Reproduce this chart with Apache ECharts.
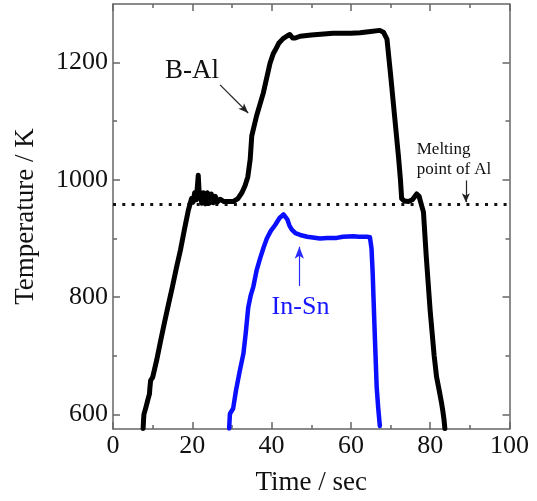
<!DOCTYPE html>
<html>
<head>
<meta charset="utf-8">
<script src="https://cdn.jsdelivr.net/npm/echarts@6/dist/echarts.min.js"></script>
<style>html,body{margin:0;padding:0;background:#fff;}#c{width:537px;height:501px;}</style>
</head>
<body>
<div id="c"></div>
<script>
// ---- data ----
const bAlTime = [7.6,7.7,7.8,8.3,8.8,9.2,9.3,9.5,10,11,12,13,14,14.4,15,16,17,18,19,19.4,19.8,20.2,20.6,21,21.3,21.5,21.7,22,22.4,22.8,23.3,23.8,24.3,24.8,25.3,25.8,26.3,27,28,29,30.3,31.5,32.5,33.3,34.0,34.6,35.0,36.2,37.9,39.6,40.4,40.9,41.8,42.9,43.8,44.6,45.3,46,47.2,50,55.5,60,62.3,65,67.3,68.2,69.1,70,71,72,72.5,72.8,73.5,74.5,75.5,76.6,77.2,77.6,78.3,79,80,81,81.6,82.3,82.9,83.2,83.5,83.7];
const bAlTemp = [576,590,600,612,625,635,645,658,663,692,725,757,788,800,818,850,880,915,948,958,968,962,978,966,990,1008,982,972,960,978,959,978,960,976,961,972,962,967,963,963,963,968,978,990,1005,1035,1075,1109,1148,1199,1215,1221,1233,1241,1245,1248,1242,1242,1245,1247,1250,1250,1251,1253,1255,1252,1240,1180,1110,1040,1000,968,964,963,966,976,972,962,945,870,776,700,664,640,618,605,590,576];
const inSnTime = [29.3,29.4,29.5,29.7,30.3,31,32,32.9,33.5,34.1,34.7,35.4,36.2,37.1,38,38.8,39.8,40.9,42,43.0,43.4,44,44.5,45.1,46,47.2,49,52.2,54,56.4,58,60.6,62,64,64.8,65.2,65.5,65.7,66,66.5,66.9,67.3];
const inSnTemp = [576,590,601,604,610,640,675,704,740,782,802,818,845,866,885,900,913,923,935,941,943,932,922,915,909,906,903,900,901,901,903,904,903,903,902,883,840,799,740,647,610,580];
const meltingPoint = 958;
const yMajorTicks = [600,800,1000,1200];
const yMinorTicks = [700,900,1100];
const xRange = [0,100];
const yRange = [575,1300];
const labels = {bAl:'B-Al', inSn:'In-Sn', melt1:'Melting', melt2:'point of Al', xName:'Time / sec', yName:'Temperature / K'};
// annotation anchors (data coords)
const bAlArrow = [[27.0,1162],[34.1,1114]];
const inSnArrow = [[47.0,819],[47.0,886]];
const meltArrow = [[89.0,999],[89.0,962]];
const bAlLabelAt = [13.1,1168];
const inSnLabelAt = [40.0,765];
const melt1At = [76.6,1041];
const melt2At = [76.6,1007];

const zip = (a,b)=>a.map((v,i)=>[v,b[i]]);
const FONT = 'Liberation Serif';
const AX = '#666';

const chart = echarts.init(document.getElementById('c'), null, {renderer:'canvas'});
const yAx = (pos, vals, len, main) => ({
  type:'value', position:pos, min:yRange[0], max:yRange[1],
  name: main && pos==='left' ? labels.yName : '',
  nameLocation:'middle', nameGap:74, nameRotate:90,
  nameTextStyle:{fontFamily:FONT,fontSize:27,color:'#111'},
  axisLine:{show:main,lineStyle:{color:AX,width:1.5}},
  axisTick:{show:true,inside:true,length:len,customValues:vals,lineStyle:{color:AX,width:1.5}},
  axisLabel:{show:main && pos==='left',customValues:vals,formatter:v=>String(v),fontFamily:FONT,fontSize:26,color:'#111',margin:5},
  splitLine:{show:false}
});
const xAx = (pos) => ({
  type:'value', position:pos, min:xRange[0], max:xRange[1], interval:20,
  name: pos==='bottom' ? labels.xName : '',
  nameLocation:'middle', nameGap:40,
  nameTextStyle:{fontFamily:FONT,fontSize:27,color:'#111'},
  axisLine:{show:true,lineStyle:{color:AX,width:1.5}},
  axisTick:{show:true,inside:true,length:7,lineStyle:{color:AX,width:1.5}},
  minorTick:{show:true,splitNumber:2,length:4,lineStyle:{color:AX,width:1.5}},
  axisLabel:{show:pos==='bottom',fontFamily:FONT,fontSize:26,color:'#111',margin:4},
  splitLine:{show:false}, minorSplitLine:{show:false}
});

const arrowLine = (pts, color, size) => ({
  symbol:['none','arrow'], symbolSize:size, silent:true,
  label:{show:false},
  lineStyle:{color:color,width:1.2,type:'solid'},
  data:[[{coord:pts[0]},{coord:pts[1]}]]
});

chart.setOption({
  animation:false,
  backgroundColor:'#fff',
  grid:{left:113,right:27.5,top:4,bottom:69.3,containLabel:false},
  xAxis:[xAx('bottom'), xAx('top')],
  yAxis:[yAx('left',yMajorTicks,7,true), yAx('left',yMinorTicks,4,false), yAx('right',yMajorTicks,7,true), yAx('right',yMinorTicks,4,false)],
  series:[
    {type:'line', data:[[xRange[0],meltingPoint],[xRange[1],meltingPoint]], symbol:'none',
     lineStyle:{color:'#111',width:3,type:[3,6.3]}, z:1},
    {type:'line', data:zip(bAlTime,bAlTemp), symbol:'none',
     lineStyle:{color:'#000',width:5,join:'round',cap:'round'}, z:3,
     markLine:arrowLine(bAlArrow,'#222',[6,10])},
    {type:'line', data:zip(inSnTime,inSnTemp), symbol:'none',
     lineStyle:{color:'#0a10ff',width:4.5,join:'round',cap:'round'}, z:2,
     markLine:arrowLine(inSnArrow,'#2a2aff',[7,12])},
    {type:'line', data:[], symbol:'none', markLine:arrowLine(meltArrow,'#222',[6,9])}
  ]
});

const px = p => chart.convertToPixel({gridIndex:0}, p);
const txt = (pos, text, size, color) => ({
  type:'text', left:pos[0], top:pos[1] - size*0.891, silent:true,
  style:{text:text, font:size+'px "'+FONT+'"', fill:color}
});
chart.setOption({graphic:[
  txt(px(bAlLabelAt), labels.bAl, 27, '#111'),
  txt(px(inSnLabelAt), labels.inSn, 26, '#1515ff'),
  txt(px(melt1At), labels.melt1, 17, '#111'),
  txt(px(melt2At), labels.melt2, 17, '#111')
]});
</script>
</body>
</html>
